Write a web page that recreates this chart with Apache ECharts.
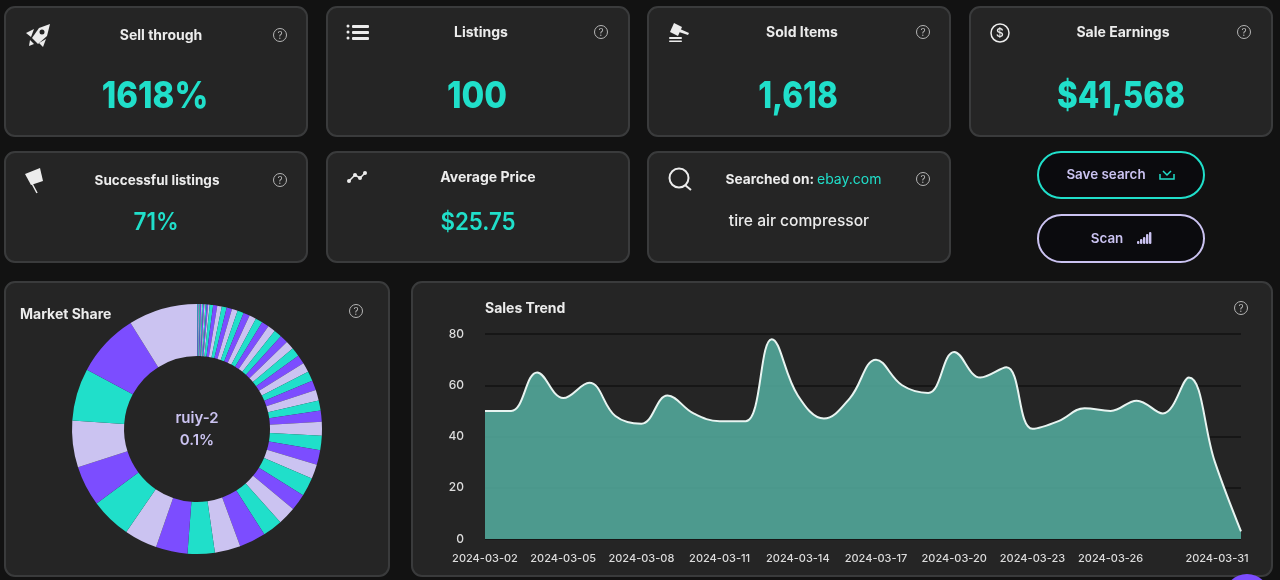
<!DOCTYPE html>
<html>
<head>
<meta charset="utf-8"/>
<title>Sales dashboard</title>
<script src="https://cdn.jsdelivr.net/npm/echarts@6/dist/echarts.min.js"></script>
<style>
html, body { margin: 0; padding: 0; background: #121212; overflow: hidden; }
#main { width: 1280px; height: 580px; }
</style>
</head>
<body>
<div id="main"></div>
<script>
const trendDates = ['2024-03-02','2024-03-03','2024-03-04','2024-03-05','2024-03-06','2024-03-07','2024-03-08','2024-03-09','2024-03-10','2024-03-11','2024-03-12','2024-03-13','2024-03-14','2024-03-15','2024-03-16','2024-03-17','2024-03-18','2024-03-19','2024-03-20','2024-03-21','2024-03-22','2024-03-23','2024-03-24','2024-03-25','2024-03-26','2024-03-27','2024-03-28','2024-03-29','2024-03-30','2024-03-31']
const trendValues = [50,50,65,55,61,48,45,56,49,46,46,78,56,47,55,70,60,57,73,63,67,43,46,51,50,54,49,63,30,3]
const shareValues = [0.1,0.1,0.11,0.11,0.12,0.12,0.13,0.14,0.15,0.16,0.18,0.2,0.44,0.53,0.58,0.64,0.69,0.75,0.81,0.83,0.89,0.92,0.94,1,1.03,1.06,1.11,1.14,1.17,1.22,1.25,1.28,1.36,1.31,1.42,1.78,1.86,1.89,1.86,2.39,2.17,2.33,2.56,3.42,3.31,3.5,4.08,4.25,5.25,5.19,6.03,6.75,8.19,8.89]
const shareLabel = 'ruiy-2'
const shareLabelValue = '0.1%'

const TEAL = '#20dfca'
const PURPLE = '#7c4dff'
const LAV = '#cbc3f1'
const WHITE = '#ececec'
const FONT = 'Inter'

const g = []

function card(x, y, w, h) {
    g.push({ type: 'rect', z: -1, shape: { x, y, width: w, height: h, r: 10 },
        style: { fill: '#252525', stroke: '#3a3b3c', lineWidth: 2 } })
}
function text(str, x, y, size, weight, fill, align, scaleX) {
    g.push({ type: 'text', z: 10, x, y: y + 1, scaleX: scaleX || 1, style: { text: str, x: 0, y: 0, fill, font: `${weight} ${size}px ${FONT}`,
        textAlign: align || 'center', textVerticalAlign: 'middle' } })
}
function help(x, y) {
    g.push({ type: 'circle', z: 10, shape: { cx: x, cy: y, r: 6.5 }, style: { fill: 'none', stroke: '#b5b5b5', lineWidth: 1 } })
    text('?', x, y - 0.5, 10, 400, '#b5b5b5')
}
function poly(points, fill) {
    g.push({ type: 'polygon', z: 10, shape: { points }, style: { fill } })
}
function stroke(points, color, width) {
    g.push({ type: 'polyline', z: 10, shape: { points }, style: { fill: 'none', stroke: color, lineWidth: width } })
}
function dot(cx, cy, r, fill) {
    g.push({ type: 'circle', z: 10, shape: { cx, cy, r }, style: { fill } })
}
function bar(x, y, w, h, fill) {
    g.push({ type: 'rect', z: 10, shape: { x, y, width: w, height: h, r: 1 }, style: { fill } })
}
function button(x, y, w, h, color) {
    g.push({ type: 'rect', z: 1, shape: { x, y, width: w, height: h, r: h / 2 },
        style: { fill: '#0b0b0e', stroke: color, lineWidth: 2 } })
}

// cards
card(5, 7, 302, 129); card(327, 7, 302, 129); card(648, 7, 302, 129); card(970, 7, 302, 129)
card(5, 152, 302, 110); card(327, 152, 302, 110); card(648, 152, 302, 110)
card(5, 282, 384, 294); card(412, 282, 860, 294)

// titles and values
text('Sell through', 161, 35, 14, 700, WHITE)
text('Listings', 481, 32, 14, 700, WHITE)
text('Sold Items', 802, 32, 14, 700, WHITE)
text('Sale Earnings', 1123, 32, 14, 700, WHITE)
text('Successful listings', 157, 180, 13.5, 700, WHITE)
text('Average Price', 488, 177, 14, 700, WHITE)
text('Searched on:', 814, 179, 13.7, 700, WHITE, 'right')
text('ebay.com', 817, 179, 14, 400, TEAL, 'left')
text('1618%', 155, 96, 37, 800, TEAL, 'center', 0.89)
text('100', 477, 96, 37, 800, TEAL, 'center', 0.89)
text('1,618', 798, 96, 37, 800, TEAL, 'center', 0.85)
text('$41,568', 1121, 96, 37, 800, TEAL, 'center', 0.85)
text('71%', 156, 222, 24, 600, TEAL, 'center', 0.94)
text('$25.75', 478, 222, 24, 600, TEAL, 'center', 0.93)
text('tire air compressor', 799, 220, 15.6, 500, WHITE)
text('Market Share', 20, 314, 14, 700, WHITE, 'left')
text('Sales Trend', 485, 308, 14, 700, WHITE, 'left')

help(280, 35); help(601, 32); help(923, 32); help(1244, 32)
help(280, 180); help(923, 179); help(356, 311); help(1241, 308)

// buttons
button(1038, 152, 166, 46, TEAL)
button(1038, 215, 166, 47, LAV)
text('Save search', 1106, 174, 13.4, 600, LAV)
text('Scan', 1107, 238, 13.4, 600, LAV)
stroke([[1160, 174], [1160, 179], [1174, 179], [1174, 174]], TEAL, 1.5)
stroke([[1163, 171], [1167, 175], [1171, 171]], TEAL, 1.5)
bar(1137, 241, 2.4, 3, LAV); bar(1140, 239, 2.4, 5, LAV); bar(1143, 237, 2.4, 7, LAV); bar(1146, 234, 2.4, 10, LAV); bar(1149, 232, 2.4, 12, LAV)

// icons
poly([[50, 24], [47, 36], [38, 44], [32, 38], [39, 28]], WHITE)
poly([[34, 29], [26, 33], [31, 37]], WHITE)
poly([[46, 39], [43, 47], [39, 43]], WHITE)
poly([[30, 40], [34, 44], [29, 46]], WHITE)
dot(42, 32, 2.5, '#252525')
dot(348, 26, 1.5, WHITE); dot(348, 32, 1.5, WHITE); dot(348, 38, 1.5, WHITE)
bar(352, 25, 17, 3, WHITE); bar(352, 31, 17, 3, WHITE); bar(352, 37, 17, 3, WHITE)
poly([[674, 23], [682, 27], [678, 36], [670, 32]], WHITE)
poly([[680, 29], [689, 33], [688, 35], [679, 32]], WHITE)
bar(669, 37, 13, 2, WHITE); bar(669, 40.5, 13, 1.5, WHITE)
g.push({ type: 'circle', z: 10, shape: { cx: 1000, cy: 33, r: 9 }, style: { fill: 'none', stroke: WHITE, lineWidth: 1.5 } })
text('$', 1000, 32.5, 12, 500, WHITE)
poly([[25, 174], [40, 168], [43, 181], [31, 185]], WHITE)
stroke([[28, 176], [37, 193]], WHITE, 1.5)
stroke([[349, 181], [355, 175], [360, 178], [365, 173]], WHITE, 1.5)
dot(349, 181, 2, WHITE); dot(355, 175, 2, WHITE); dot(360, 178, 2, WHITE); dot(365, 173, 2, WHITE)
g.push({ type: 'circle', z: 10, shape: { cx: 679, cy: 178, r: 9.5 }, style: { fill: 'none', stroke: WHITE, lineWidth: 2 } })
stroke([[685, 185], [691, 190]], WHITE, 2)

// chat bubble cut off by the window
dot(1247, 597, 23, PURPLE)

const myChart = echarts.init(document.getElementById('main'), null, { width: 1280, height: 580 })
myChart.setOption({
    animation: false,
    backgroundColor: '#121212',
    textStyle: { fontFamily: FONT },
    color: [TEAL, PURPLE, LAV],
    grid: { left: 485, right: 39, top: 334, bottom: 41, containLabel: false },
    xAxis: {
        type: 'category',
        boundaryGap: false,
        data: trendDates,
        axisLine: { show: false },
        axisTick: { show: false },
        axisLabel: {
            color: '#dcdcdc', fontSize: 11, fontWeight: 500, margin: 14, hideOverlap: false,
            interval: (i) => (i % 3 === 0 && i < 27) || i === trendDates.length - 1,
            formatter: (v, i) => i === trendDates.length - 1 ? `{last|${v}}` : v,
            rich: { last: { color: '#dcdcdc', fontSize: 11, fontWeight: 500, padding: [0, 48, 0, 0] } }
        }
    },
    yAxis: {
        type: 'value',
        min: 0,
        max: 80,
        interval: 20,
        axisLine: { show: false },
        axisTick: { show: false },
        axisLabel: { color: '#dcdcdc', fontSize: 12, fontWeight: 500, margin: 21, padding: [4, 0, 0, 0] },
        splitLine: { lineStyle: { color: '#121212', width: 1.5 } }
    },
    series: [
        {
            type: 'line',
            data: trendValues,
            smooth: 0.4,
            showSymbol: false,
            lineStyle: { color: '#e8f4f1', width: 2 },
            areaStyle: { color: '#53ab9d', opacity: 0.88 },
            silent: true
        },
        {
            type: 'pie',
            center: [197, 429],
            radius: [73, 125],
            startAngle: 90,
            avoidLabelOverlap: false,
            silent: true,
            label: { show: false },
            labelLine: { show: false },
            data: shareValues.map((v, i) => i === 0
                ? { value: v, name: shareLabel, label: {
                    show: true, position: 'center', color: LAV, fontFamily: FONT, fontSize: 15, fontWeight: 600, lineHeight: 22,
                    formatter: () => shareLabel + '\n' + shareLabelValue } }
                : { value: v, name: 'item-' + i })
        }
    ],
    graphic: { elements: g }
})
</script>
</body>
</html>
